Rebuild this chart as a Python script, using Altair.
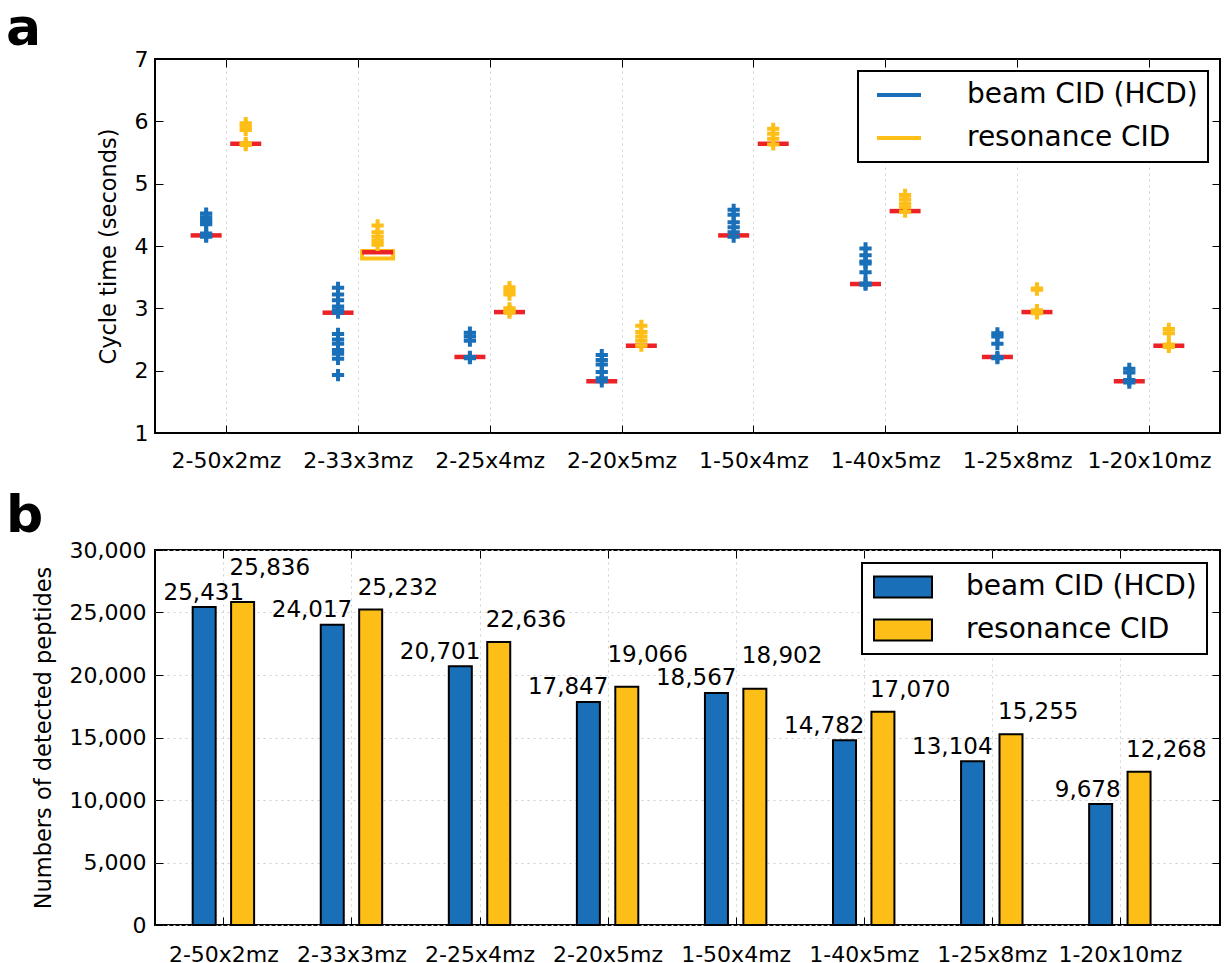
import json

import altair as alt
import pandas as pd

# ---------------------------------------------------------------- data
categories = ["2-50x2mz", "2-33x3mz", "2-25x4mz", "2-20x5mz",
              "1-50x4mz", "1-40x5mz", "1-25x8mz", "1-20x10mz"]
series_names = ["beam CID (HCD)", "resonance CID"]

# cycle time of individual runs (seconds)
beam_cycle = [
    [4.52, 4.46, 4.40, 4.35, 4.20, 4.17, 4.15],
    [3.33, 3.22, 3.13, 3.03, 2.97, 2.93, 2.59, 2.50, 2.43, 2.33, 2.27, 2.19, 1.93],
    [2.61, 2.55, 2.48, 2.22, 2.20],
    [2.25, 2.17, 2.10, 1.98, 1.88, 1.83],
    [4.58, 4.50, 4.38, 4.30, 4.22, 4.15],
    [3.96, 3.85, 3.75, 3.72, 3.58, 3.40, 3.38],
    [2.60, 2.55, 2.43, 2.22, 2.20],
    [2.03, 1.97, 1.85, 1.81],
]
resonance_cycle = [
    [5.97, 5.92, 5.86, 5.65, 5.62],
    [4.33, 4.22, 4.15, 4.08, 4.02],
    [3.34, 3.28, 3.22, 3.00, 2.96, 2.93],
    [2.72, 2.62, 2.55, 2.48, 2.40],
    [5.88, 5.80, 5.72, 5.63],
    [4.82, 4.75, 4.68, 4.62, 4.55],
    [3.32, 3.30, 2.97, 2.94, 2.92],
    [2.67, 2.60, 2.42, 2.38],
]
beam_median = [4.17, 2.93, 2.22, 1.83, 4.17, 3.39, 2.22, 1.83]
resonance_median = [5.64, 3.90, 2.94, 2.40, 5.64, 4.56, 2.94, 2.40]
beam_q1 = [4.17, 2.93, 2.22, 1.83, 4.17, 3.39, 2.22, 1.83]
beam_q3 = [4.17, 2.93, 2.22, 1.83, 4.17, 3.39, 2.22, 1.83]
resonance_q1 = [5.64, 3.80, 2.94, 2.40, 5.64, 4.56, 2.94, 2.40]
resonance_q3 = [5.64, 3.92, 2.94, 2.40, 5.64, 4.56, 2.94, 2.40]

# numbers of detected peptides
beam_peptides = [25431, 24017, 20701, 17847, 18567, 14782, 13104, 9678]
resonance_peptides = [25836, 25232, 22636, 19066, 18902, 17070, 15255, 12268]

# ---------------------------------------------------------------- style
BLUE = "#1a70b8"
ORANGE = "#fdbf17"
RED = "#ec2227"
GRID = "#cfcfcf"
FONT = "DejaVu Sans"

cat_ticks = list(range(1, len(categories) + 1))
label_expr = json.dumps(categories) + "[datum.value - 1]"
beam_test = f"datum.series === '{series_names[0]}'"
xpos_expr = f"datum.idx + ({beam_test} ? -0.15 : 0.15)"
inward = {"expr": "-8"}
color_scale = alt.Scale(domain=series_names, range=[BLUE, ORANGE])

# ---------------------------------------------------------------- tables
cycle_rows = []
stat_rows = []
pep_rows = []
for i in range(len(categories)):
    for name, runs, med, q1, q3, pep in (
        (series_names[0], beam_cycle[i], beam_median[i], beam_q1[i], beam_q3[i], beam_peptides[i]),
        (series_names[1], resonance_cycle[i], resonance_median[i], resonance_q1[i], resonance_q3[i], resonance_peptides[i]),
    ):
        cycle_rows += [{"idx": i + 1, "series": name, "value": v} for v in runs]
        stat_rows.append({"idx": i + 1, "series": name, "median": med, "q1": q1, "q3": q3})
        pep_rows.append({"idx": i + 1, "series": name, "count": pep})

cycle_df = pd.DataFrame(cycle_rows)
stat_df = pd.DataFrame(stat_rows)
pep_df = pd.DataFrame(pep_rows)


def cat_axis(label_padding, grid=True):
    return alt.Axis(values=cat_ticks, labelExpr=label_expr, grid=grid,
                    tickSize=inward, labelPadding=label_padding, domain=False,
                    labelFlush=False, labelOverlap=False)


def mirror_axis(orient, values):
    return alt.Axis(orient=orient, values=values, labels=False, grid=False,
                    tickSize=inward, domain=False, title=None)


def panel_title(letter, offset):
    return alt.TitleParams(letter, anchor="start", frame="group", dx=-149,
                           baseline="top", offset=offset)


# ---------------------------------------------------------------- panel a
x_a = alt.Scale(domain=[0.5, 8.5], nice=False, zero=False)
y_a = alt.Scale(domain=[1, 7], nice=False, zero=False)
y_vals_a = list(range(1, 8))

# interquartile boxes (only where they do not collapse onto the median)
boxes = (
    alt.Chart(stat_df)
    .transform_filter("datum.q3 > datum.q1")
    .transform_calculate(
        xpos=xpos_expr,
        box_color=f"{beam_test} ? '{BLUE}' : '{ORANGE}'",
    )
    .mark_bar(width=31, fillOpacity=0, strokeWidth=4)
    .encode(
        x=alt.X("xpos:Q", scale=x_a, axis=None),
        y=alt.Y("q1:Q", scale=y_a, axis=None),
        y2="q3:Q",
        stroke=alt.Stroke("box_color:N", scale=None),
    )
)

medians = (
    alt.Chart(stat_df)
    .transform_calculate(xpos=xpos_expr)
    .mark_point(shape="M-1,0H1", filled=False, size=961, strokeWidth=4.5,
                color=RED, opacity=1)
    .encode(
        x=alt.X("xpos:Q", scale=x_a, axis=mirror_axis("top", cat_ticks)),
        y=alt.Y("median:Q", scale=y_a, axis=mirror_axis("right", y_vals_a)),
    )
)

runs = (
    alt.Chart(cycle_df)
    .transform_calculate(xpos=xpos_expr)
    .mark_point(shape="M-1,0H1M0,-1V1", filled=False, size=150, strokeWidth=4,
                opacity=1)
    .encode(
        x=alt.X("xpos:Q", scale=x_a, title=None, axis=cat_axis(25)),
        y=alt.Y("value:Q", scale=y_a, title="Cycle time (seconds)",
                axis=alt.Axis(values=y_vals_a, format="d", tickSize=inward,
                              labelPadding=15, domain=False, titlePadding=14)),
        color=alt.Color(
            "series:N", scale=color_scale,
            legend=alt.Legend(title=None, orient="top-right", offset=12,
                              symbolType="stroke", symbolSize=1936,
                              symbolStrokeWidth=4, symbolOffset=7,
                              labelOffset=44, clipHeight=28),
        ),
    )
)

panel_a = (
    alt.layer(boxes, medians, runs)
    .resolve_axis(x="independent", y="independent")
    .properties(width=1065, height=374, title=panel_title("a", -8))
)

# ---------------------------------------------------------------- panel b
x_b = alt.Scale(domain=[0.505, 8.743], nice=False, zero=False)
y_b = alt.Scale(domain=[0, 30000], nice=False)
y_vals_b = list(range(0, 30001, 5000))

bars = (
    alt.Chart(pep_df)
    .transform_calculate(xpos=xpos_expr)
    .mark_bar(width=23, stroke="black", strokeWidth=2)
    .encode(
        x=alt.X("xpos:Q", scale=x_b, title=None, axis=cat_axis(27)),
        y=alt.Y("count:Q", scale=y_b, title="Numbers of detected peptides",
                axis=alt.Axis(values=y_vals_b, format=",d", tickSize=inward,
                              labelPadding=17, domain=False, titlePadding=14)),
        color=alt.Color(
            "series:N", scale=color_scale,
            legend=alt.Legend(title=None, orient="top-right", offset=13,
                              symbolType="M-1,-0.362H1V0.362H-1Z",
                              symbolSize=3364, symbolStrokeColor="black",
                              symbolStrokeWidth=2, symbolOffset=1,
                              labelOffset=33, clipHeight=28),
        ),
    )
)

# value labels: beam labels end just right of their bar, resonance labels
# start at the left edge of theirs; a few are lifted clear of neighbours
label_base = (
    alt.Chart(pep_df)
    .transform_calculate(
        xpos=xpos_expr,
        lx=f"datum.xpos + ({beam_test} && datum.idx === 1 ? 0.155 : 0)"
           f" + (!({beam_test}) && datum.idx === 4 ? -0.05 : 0)",
        ly=f"datum.count + ({beam_test} ? 600 : "
           "(datum.idx === 1 ? 2150 : datum.idx === 4 ? 1950 : datum.idx === 5 ? 2050 : 1200))",
    )
)
beam_labels = (
    label_base.transform_filter(beam_test)
    .mark_text(align="right", baseline="alphabetic", dx=20, fontSize=23,
               color="black")
    .encode(
        x=alt.X("lx:Q", scale=x_b, axis=mirror_axis("top", cat_ticks)),
        y=alt.Y("ly:Q", scale=y_b, axis=mirror_axis("right", y_vals_b)),
        text=alt.Text("count:Q", format=",d"),
    )
)
resonance_labels = (
    label_base.transform_filter(f"!({beam_test})")
    .mark_text(align="left", baseline="alphabetic", dx=-13, fontSize=23,
               color="black")
    .encode(
        x=alt.X("lx:Q", scale=x_b, axis=None),
        y=alt.Y("ly:Q", scale=y_b, axis=None),
        text=alt.Text("count:Q", format=",d"),
    )
)

panel_b = (
    alt.layer(bars, beam_labels, resonance_labels)
    .resolve_axis(x="independent", y="independent")
    .properties(width=1065, height=375, title=panel_title("b", -4))
)

# ---------------------------------------------------------------- figure
chart = (
    alt.vconcat(panel_a, panel_b, spacing=17)
    .resolve_scale(color="independent")
    .properties(padding={"left": 5, "top": 2, "right": 2, "bottom": 0})
    .configure(font=FONT)
    .configure_view(stroke="black", strokeWidth=2)
    .configure_axis(
        labelFont=FONT, labelFontSize=22, labelColor="black",
        titleFont=FONT, titleFontSize=22.5, titleFontWeight="normal",
        titleColor="black", tickColor="black", tickWidth=1,
        gridColor=GRID, gridDash=[2, 4], gridWidth=1,
    )
    .configure_legend(
        labelFont=FONT, labelFontSize=28, labelColor="black", labelLimit=400,
        padding=10, rowPadding=15, strokeColor="black", strokeWidth=2,
        fillColor="white", cornerRadius=0,
    )
    .configure_title(font=FONT, fontSize=52, fontWeight="bold", color="black")
)

chart.save("out.html", embed_options={"renderer": "svg", "actions": False})
